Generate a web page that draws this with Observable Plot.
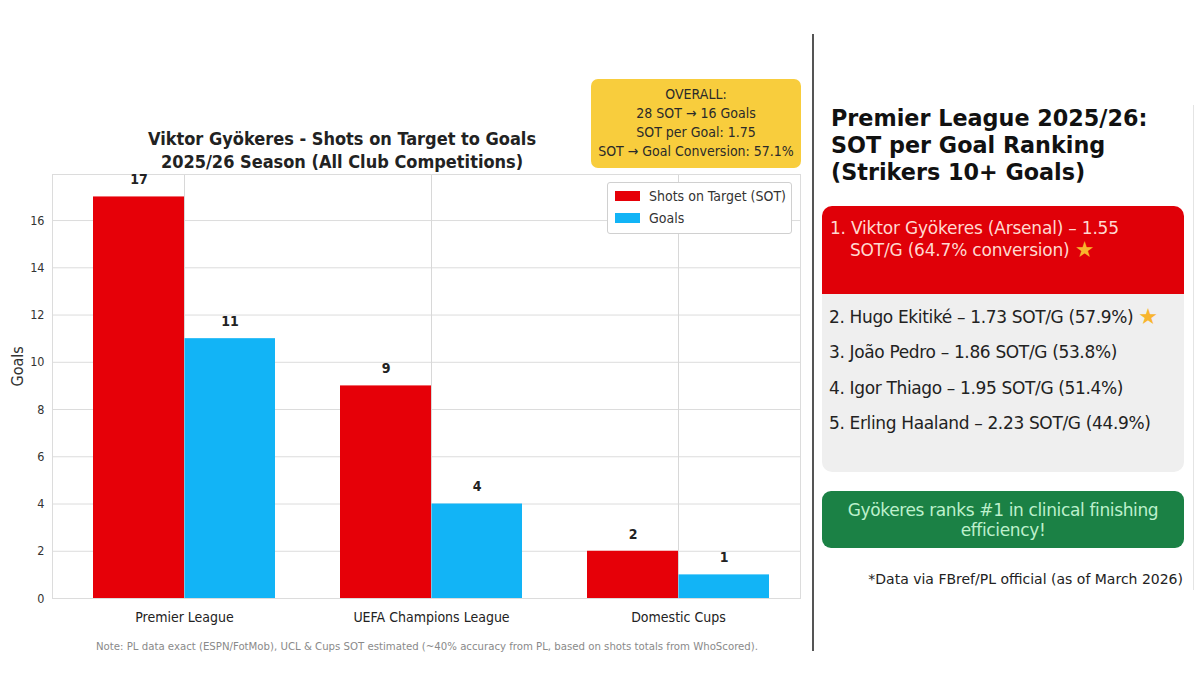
<!DOCTYPE html>
<html><head><meta charset="utf-8">
<script src="https://cdn.jsdelivr.net/npm/d3@7"></script>
<script src="https://cdn.jsdelivr.net/npm/@observablehq/plot@0.6"></script>
<style>
html,body{margin:0;padding:0;background:#fff}
#page{position:relative;width:1200px;height:686px;overflow:hidden;font-family:"DejaVu Sans";color:#1f1f1f}
#page>*{position:absolute}
#chart svg{display:block;background:transparent}
.cond{font-family:"DejaVu Sans Condensed","DejaVu Sans";}
#title{left:52px;width:580px;top:127px;text-align:center;font-weight:bold;font-size:18px;line-height:23px;color:#222}
#overall{left:591px;top:79px;width:210px;height:89px;background:#f8cd3d;border-radius:7px;text-align:center;font-size:14px;line-height:19px;color:#2a2a2a;padding-top:6px;box-sizing:border-box;white-space:nowrap}
#legend{left:607px;top:182px;width:185px;height:52px;background:#fff;border:1px solid #d0d0d0;border-radius:3px;box-sizing:border-box;font-size:14px;color:#333}
#legend div{position:absolute;left:7px;display:flex;align-items:center;white-space:nowrap}
#legend i{display:inline-block;width:25px;height:10px;margin-right:9px}
#note{left:52px;width:750px;top:640px;text-align:center;font-size:11.3px;color:#8a8a8a;white-space:nowrap}
#divider{left:812px;top:34px;width:1.5px;height:617px;background:#555}
#edge{left:1193px;top:105px;width:1px;height:485px;background:#e4e4e4}
#rtitle{left:831px;top:105px;font-size:22.3px;line-height:27px;font-weight:bold;color:#111;white-space:nowrap}
#red{left:822px;top:206px;width:362px;height:88px;background:#e00008;border-radius:10px 10px 0 0;color:#ffd9d0;font-size:17px;letter-spacing:-0.2px;line-height:22px;box-sizing:border-box;padding:11px 0 0 8px}
#red span{display:block;white-space:nowrap}
#red .cont{padding-left:20px}
.star{color:#f8b52d;font-size:22px;font-weight:normal;line-height:22px;vertical-align:-1px}
#grey{left:822px;top:294px;width:362px;height:178px;background:#efefef;border-radius:0 0 10px 10px}
#grey div{position:absolute;left:7px;font-size:17px;letter-spacing:-0.35px;line-height:22px;color:#222;white-space:nowrap}
#green{left:822px;top:491px;width:362px;height:57px;background:#1b8145;border-radius:9px;color:#bdf0cc;text-align:center;font-size:17px;letter-spacing:-0.36px;line-height:19.5px;box-sizing:border-box;padding-top:10px}
#source{right:17px;top:571px;font-size:14px;color:#222;white-space:nowrap}
</style></head>
<body><div id="page">
<div id="chart"></div>
<div id="title" class="cond"></div>
<div id="overall" class="cond"></div>
<div id="legend" class="cond"></div>
<div id="note" class="cond"></div>
<div id="divider"></div><div id="edge"></div>
<div id="rtitle"></div>
<div id="red"></div>
<div id="grey"></div>
<div id="green"></div>
<div id="source"></div>
</div>
<script>
const competitions = ["Premier League","UEFA Champions League","Domestic Cups"];
const seriesNames = ["Shots on Target (SOT)","Goals"];
const sotValues = [17,9,2];
const goalValues = [11,4,1];
const seriesColors = ["#e60008","#12b4f6"];
const yTicks = [0,2,4,6,8,10,12,14,16];
const titleLines = ["Viktor Gyökeres - Shots on Target to Goals","2025/26 Season (All Club Competitions)"];
const overallLines = ["OVERALL:","28 SOT → 16 Goals","SOT per Goal: 1.75","SOT → Goal Conversion: 57.1%"];
const noteText = "Note: PL data exact (ESPN/FotMob), UCL & Cups SOT estimated (~40% accuracy from PL, based on shots totals from WhoScored).";
const rankTitle = ["Premier League 2025/26:","SOT per Goal Ranking","(Strikers 10+ Goals)"];
const rankFirst = ["1. Viktor Gyökeres (Arsenal) – 1.55","SOT/G (64.7% conversion)"];
const rankOthers = ["2. Hugo Ekitiké – 1.73 SOT/G (57.9%)","3. João Pedro – 1.86 SOT/G (53.8%)","4. Igor Thiago – 1.95 SOT/G (51.4%)","5. Erling Haaland – 2.23 SOT/G (44.9%)"];
const rankTops = [12,47,83,118];
const banner = ["Gyökeres ranks #1 in clinical finishing","efficiency!"];
const sourceText = "*Data via FBref/PL official (as of March 2026)";

const sotRows = competitions.map((c,i)=>({competition:c,series:seriesNames[0],value:sotValues[i]}));
const goalRows = competitions.map((c,i)=>({competition:c,series:seriesNames[1],value:goalValues[i]}));
const font = '"DejaVu Sans Condensed","DejaVu Sans"';
const halfBand = 91;
const plot = Plot.plot({
  width:1200,height:686,marginLeft:52,marginRight:400,marginTop:174,marginBottom:88,
  style:{fontFamily:font,background:"transparent",overflow:"visible"},
  y:{domain:[0,17.95],label:null},
  x:{domain:competitions,paddingInner:0.265,paddingOuter:0.143,align:0.56,label:null},
  color:{domain:seriesNames,range:seriesColors},
  marks:[
    Plot.gridY(yTicks,{stroke:"#dcdcdc",strokeOpacity:1}),
    Plot.gridX({stroke:"#d8d8d8",strokeOpacity:1}),
    Plot.frame({stroke:"#dcdcdc"}),
    Plot.barY(sotRows,{x:"competition",y:"value",fill:"series",insetRight:halfBand}),
    Plot.barY(goalRows,{x:"competition",y:"value",fill:"series",insetLeft:halfBand+0.5}),
    Plot.text(sotRows,{x:"competition",y:"value",text:"value",dx:-halfBand/2,dy:-17,fontWeight:"bold",fontSize:14,fill:"#222"}),
    Plot.text(goalRows,{x:"competition",y:"value",text:"value",dx:halfBand/2,dy:-17,fontWeight:"bold",fontSize:14,fill:"#222"}),
    Plot.axisY({ticks:yTicks,tickSize:0,tickPadding:8,tickFormat:d=>d,fontSize:12.5,fill:"#333",label:null,anchor:"left"}),
    Plot.axisX({anchor:"bottom",tickSize:0,tickPadding:14,fontSize:14,fill:"#222",label:null}),
    Plot.text(["Goals"],{frameAnchor:"left",dx:-35,rotate:-90,fontSize:16,fill:"#333"})
  ]
});
document.getElementById("chart").appendChild(plot);

const set=(id,html)=>document.getElementById(id).innerHTML=html;
set("title",titleLines.join("<br>"));
set("overall",overallLines.join("<br>"));
set("legend",seriesNames.map((s,i)=>`<div style="top:${[5,27][i]}px"><i style="background:${seriesColors[i]}"></i>${s}</div>`).join(""));
document.getElementById("note").textContent=noteText;
set("rtitle",rankTitle.join("<br>"));
set("red",`<span>${rankFirst[0]}</span><span class="cont">${rankFirst[1]} <b class="star">★</b></span>`);
set("grey",rankOthers.map((s,i)=>`<div style="top:${rankTops[i]}px">${s}${i==0?' <span class="star">★</span>':''}</div>`).join(""));
set("green",banner.join("<br>"));
document.getElementById("source").textContent=sourceText;
</script>
</body></html>
